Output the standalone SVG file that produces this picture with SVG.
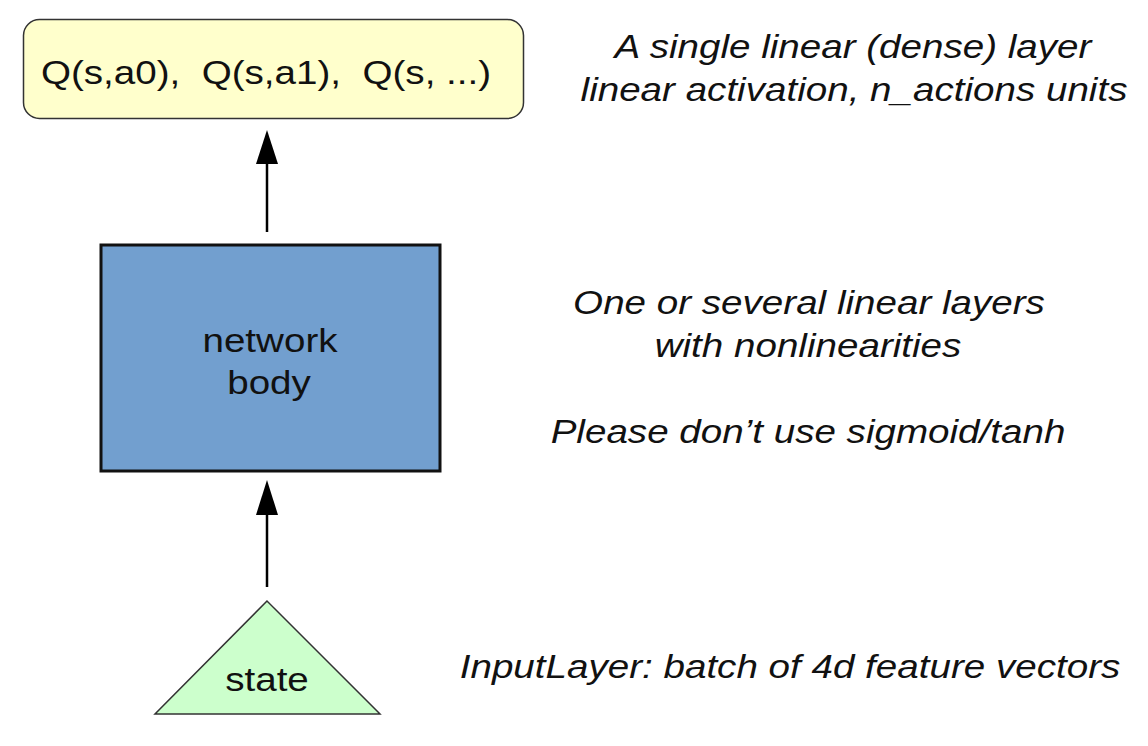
<svg xmlns="http://www.w3.org/2000/svg" width="1148" height="746" viewBox="0 0 1148 746">
<defs>
<style>
.lbl{font-family:"Liberation Sans",Arial,sans-serif;font-size:34px;fill:#111;text-anchor:middle}
.note{font-family:"Liberation Sans",Arial,sans-serif;font-size:34px;font-style:italic;fill:#111;text-anchor:middle}
.conn{stroke:#000;stroke-width:2.5;fill:none}
.arrowhead{fill:#000}
</style>
</defs>
<rect width="1148" height="746" fill="#fff"/>
<g id="connectors">
<line class="conn" x1="267" y1="232" x2="267" y2="160"/>
<polygon class="arrowhead" points="267,130 256,164 278,164"/>
<line class="conn" x1="267" y1="587" x2="267" y2="512"/>
<polygon class="arrowhead" points="267,480 256,515 278,515"/>
</g>
<g id="q-output">
<rect x="23.5" y="19.5" width="500" height="99" rx="16" ry="16" fill="#ffffcc" stroke="#333" stroke-width="1.5"/>
<text class="lbl" transform="translate(266,84) scale(1.135,1)" xml:space="preserve">Q(s,a0),  Q(s,a1),  Q(s, ...)</text>
</g>
<g id="network-body">
<rect x="101" y="245" width="339" height="226" fill="#729fcf" stroke="#111" stroke-width="3"/>
<text class="lbl" transform="translate(270,352) scale(1.135,1)">network</text>
<text class="lbl" transform="translate(269,394) scale(1.135,1)">body</text>
</g>
<g id="state">
<polygon points="267,601 155,714 380,714" fill="#ccffcc" stroke="#333" stroke-width="1.5"/>
<text class="lbl" transform="translate(267,691) scale(1.135,1)">state</text>
</g>
<g id="notes">
<text class="note" transform="translate(853,58) scale(1.135,1)">A single linear (dense) layer</text>
<text class="note" transform="translate(854,101) scale(1.135,1)">linear activation, n_actions units</text>
<text class="note" transform="translate(809,314) scale(1.135,1)">One or several linear layers</text>
<text class="note" transform="translate(808,357) scale(1.135,1)">with nonlinearities</text>
<text class="note" transform="translate(808,443) scale(1.135,1)">Please don’t use sigmoid/tanh</text>
<text class="note" transform="translate(790,678) scale(1.135,1)">InputLayer: batch of 4d feature vectors</text>
</g>
</svg>
